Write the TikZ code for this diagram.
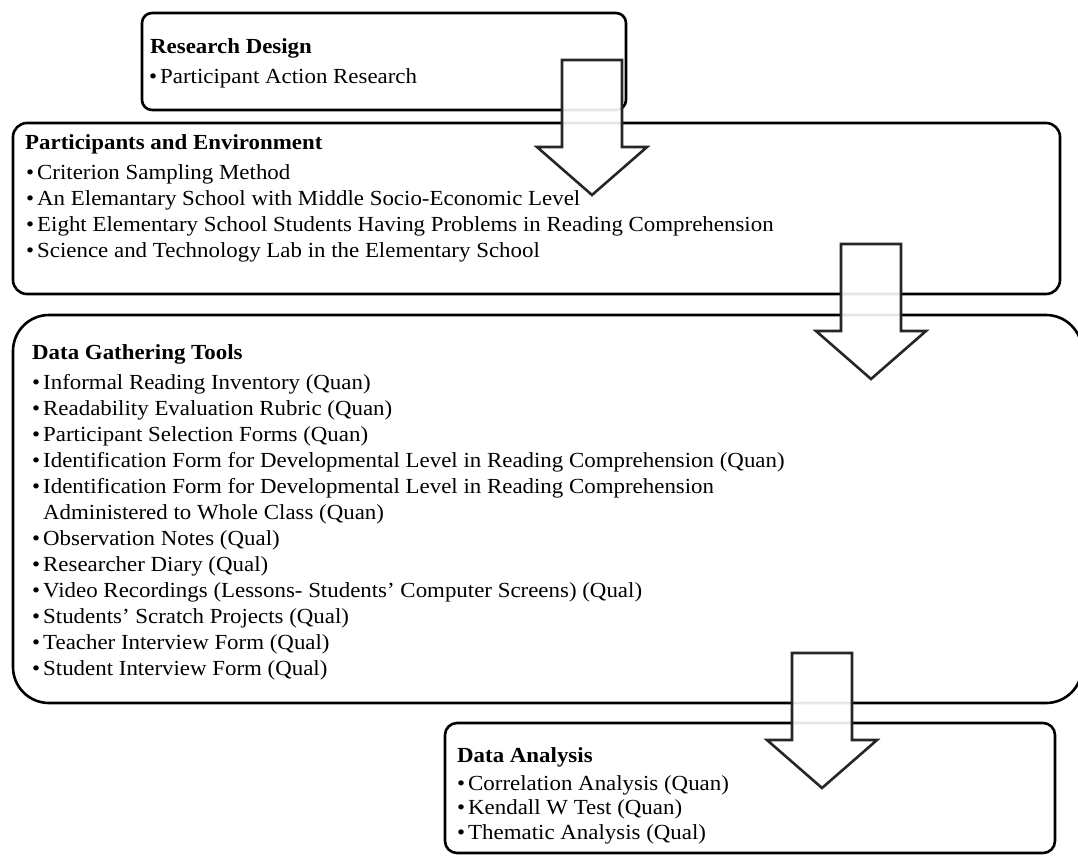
\documentclass[tikz,border=0pt]{standalone}
\usepackage{fontspec}
\setmainfont{Liberation Serif}[FakeStretch=1.065]
\newcommand\mybul{\llap{\textbullet\hspace{3pt}}}
\begin{document}
\begin{tikzpicture}[x=1pt,y=-1pt,
  box/.style={draw=black, line width=2.6pt, rounded corners=#1, inner sep=0pt},
  box/.default=12pt,
  blockarrow/.style={draw=black!85, line width=2.6pt, fill=white, fill opacity=0.9, line join=miter},
  downarrow/.pic={\draw[blockarrow] (0,0) -- (60,0) -- (60,87) -- (85,87) -- (30,135) -- (-25,87) -- (0,87) -- cycle;},
  head/.style={anchor=base west, inner sep=0pt, font=\fontsize{21.5}{26}\selectfont\bfseries},
  item/.style={anchor=base west, inner sep=0pt, font=\fontsize{21.5}{26}\selectfont}
]
\useasboundingbox (0,0) rectangle (1078,857);

% boxes
\node[box=10pt, minimum width=484pt, minimum height=97pt] (rd) at (384,61.5) {};
\node[box=14pt, minimum width=1047pt, minimum height=171pt] (pe) at (536.5,208.5) {};
\node[box=36pt, minimum width=1069pt, minimum height=388pt] (dg) at (547.5,509) {};
\node[box=12pt, minimum width=610pt, minimum height=130pt] (da) at (750,788) {};

% Research Design
\node[head] (rdh) at (150,53.5) {Research Design};
\node[item] (rd1) at (160,83.5) {\mybul Participant Action Research};

% Participants and Environment
\node[head] (peh) at (25,149) {Participants and Environment};
\foreach \t [count=\i] in {
  {Criterion Sampling Method},
  {An Elemantary School with Middle Socio-Economic Level},
  {Eight Elementary School Students Having Problems in Reading Comprehension},
  {Science and Technology Lab in the Elementary School}}
  \node[item] (pe\i) at (37,{179+26*(\i-1)}) {\mybul\t};

% Data Gathering Tools
\node[head] (dgh) at (32,359) {Data Gathering Tools};
\foreach \t [count=\i] in {
  {\mybul Informal Reading Inventory (Quan)},
  {\mybul Readability Evaluation Rubric (Quan)},
  {\mybul Participant Selection Forms (Quan)},
  {\mybul Identification Form for Developmental Level in Reading Comprehension (Quan)},
  {\mybul Identification Form for Developmental Level in Reading Comprehension},
  {Administered to Whole Class (Quan)},
  {\mybul Observation Notes (Qual)},
  {\mybul Researcher Diary (Qual)},
  {\mybul Video Recordings (Lessons- Students' Computer Screens) (Qual)},
  {\mybul Students' Scratch Projects (Qual)},
  {\mybul Teacher Interview Form (Qual)},
  {\mybul Student Interview Form (Qual)}}
  \node[item] (dg\i) at (43,{389+26*(\i-1)}) {\t};

% Data Analysis
\node[head] (dah) at (457,762) {Data Analysis};
\foreach \t [count=\i] in {
  {Correlation Analysis (Quan)},
  {Kendall W Test (Quan)},
  {Thematic Analysis (Qual)}}
  \node[item] (da\i) at (468,{790+24.5*(\i-1)}) {\mybul\t};

% arrows
\pic at (562,60) {downarrow};
\pic at (841,244) {downarrow};
\pic at (792,653) {downarrow};
\end{tikzpicture}
\end{document}
